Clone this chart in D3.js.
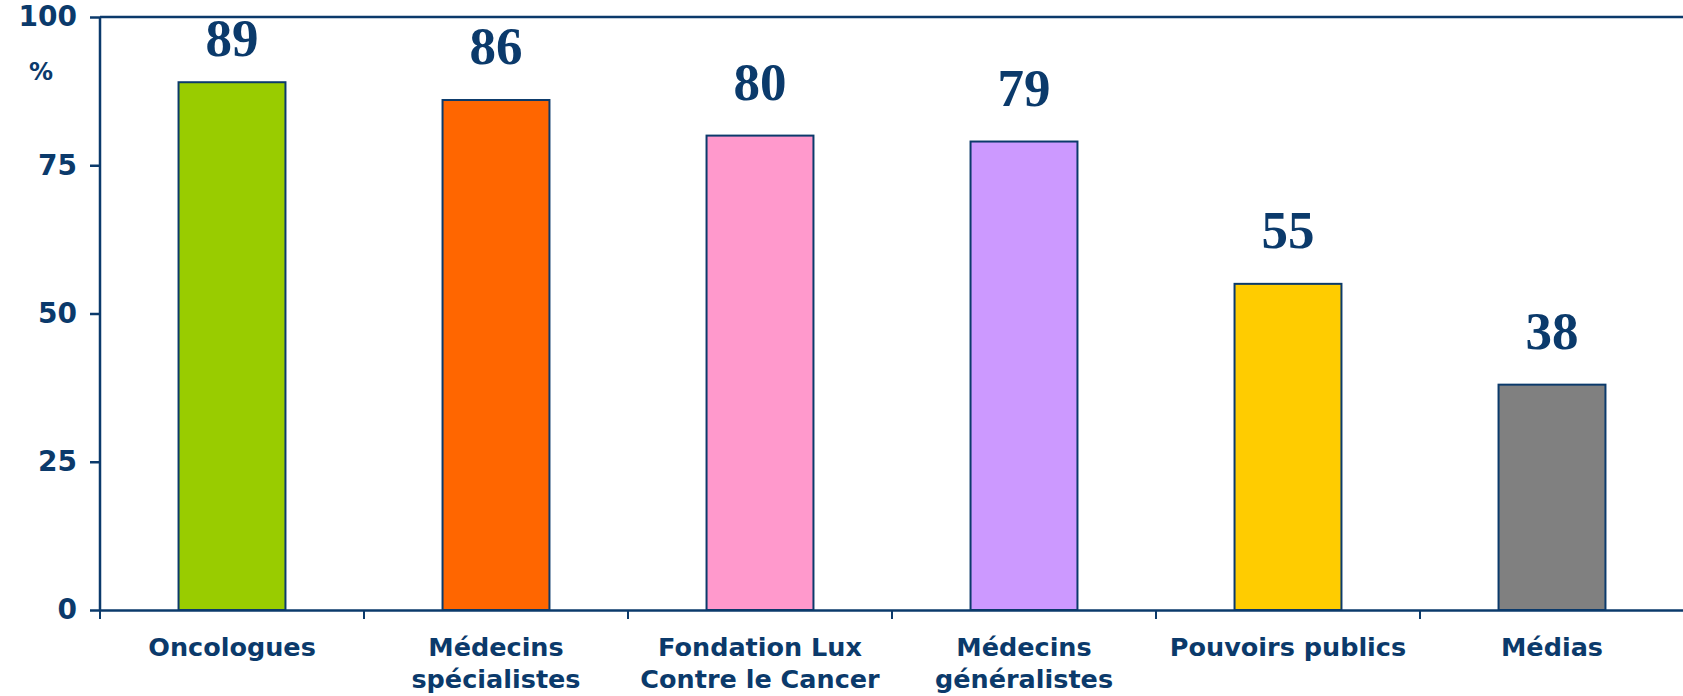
<!DOCTYPE html>
<html><head><meta charset="utf-8">
<script src="https://cdn.jsdelivr.net/npm/d3@7"></script>
<style>body{margin:0;background:#fff}svg{display:block}</style>
</head><body><svg id="c" width="1683" height="696"></svg>
<script>
const categories = ["Oncologues", "Médecins spécialistes", "Fondation Lux Contre le Cancer", "Médecins généralistes", "Pouvoirs publics", "Médias"];
const labelLines = [["Oncologues"], ["Médecins", "spécialistes"], ["Fondation Lux", "Contre le Cancer"], ["Médecins", "généralistes"], ["Pouvoirs publics"], ["Médias"]];
const values = [89, 86, 80, 79, 55, 38];
const barColors = ["#99CC00", "#FF6600", "#FF99CC", "#CC99FF", "#FFCC00", "#808080"];
const yTicks = [0, 25, 50, 75, 100];
const unitLabel = "%";

const navy = "#0B3A6B";
const svg = d3.select("#c");
const L = 100, R = 1684, T = 17, B = 610;
const x = d3.scaleBand().domain(categories).range([L, R]).paddingInner(0.595).paddingOuter(0.2975);
const y = d3.scaleLinear().domain([0, 100]).range([B, T]);

// top frame line
svg.append("line").attr("x1", L).attr("x2", R).attr("y1", T).attr("y2", T)
  .attr("stroke", navy).attr("stroke-width", 2.5);

// bars
svg.append("g").selectAll("rect").data(values).join("rect")
  .attr("x", (d, i) => x(categories[i]))
  .attr("y", d => y(d))
  .attr("width", x.bandwidth())
  .attr("height", d => B - y(d))
  .attr("fill", (d, i) => barColors[i])
  .attr("stroke", navy).attr("stroke-width", 2);

// y axis
const yAxis = svg.append("g").attr("transform", `translate(${L},0)`)
  .call(d3.axisLeft(y).tickValues(yTicks).tickSize(10).tickPadding(13).tickFormat(d3.format("d")));
yAxis.select(".domain").attr("stroke", navy).attr("stroke-width", 2.5).attr("d", `M0,${T}V${B}`);
yAxis.selectAll(".tick line").attr("stroke", navy).attr("stroke-width", 2.5);
yAxis.selectAll(".tick text").attr("fill", navy).attr("font-family", "DejaVu Sans")
  .attr("font-weight", "bold").attr("font-size", 28);

svg.append("text").attr("x", 41).attr("y", 72).attr("dy", "0.35em").attr("text-anchor", "middle")
  .attr("fill", navy).attr("font-family", "DejaVu Sans").attr("font-weight", "bold").attr("font-size", 24)
  .text(unitLabel);

// x axis
const xAxis = svg.append("g").attr("transform", `translate(0,${B})`)
  .call(d3.axisBottom(x).tickSize(0).tickFormat(""));
xAxis.select(".domain").attr("stroke", navy).attr("stroke-width", 2.5);
const gap = (x.step() - x.bandwidth()) / 2;
const bounds = categories.map(c => x(c) - gap);
xAxis.selectAll(".bnd").data(bounds).join("line").attr("class", "bnd")
  .attr("x1", d => d).attr("x2", d => d).attr("y1", 0).attr("y2", 9)
  .attr("stroke", navy).attr("stroke-width", 2);

const lab = svg.append("g").selectAll("text").data(labelLines).join("text")
  .attr("text-anchor", "middle")
  .attr("fill", navy).attr("font-family", "DejaVu Sans").attr("font-weight", "bold").attr("font-size", 25.5)
  .attr("transform", (d, i) => `translate(${x(categories[i]) + x.bandwidth() / 2},656)`);
lab.selectAll("tspan").data(d => d).join("tspan")
  .attr("x", 0).attr("y", (d, j) => j * 32).text(d => d);

// value labels
svg.append("g").selectAll("text").data(values).join("text")
  .attr("x", (d, i) => x(categories[i]) + x.bandwidth() / 2)
  .attr("y", d => y(Math.min(d + 6, 93.5)))
  .attr("text-anchor", "middle")
  .attr("fill", navy).attr("font-family", "Liberation Serif").attr("font-weight", "bold").attr("font-size", 53)
  .text(d => d);
</script></body></html>
